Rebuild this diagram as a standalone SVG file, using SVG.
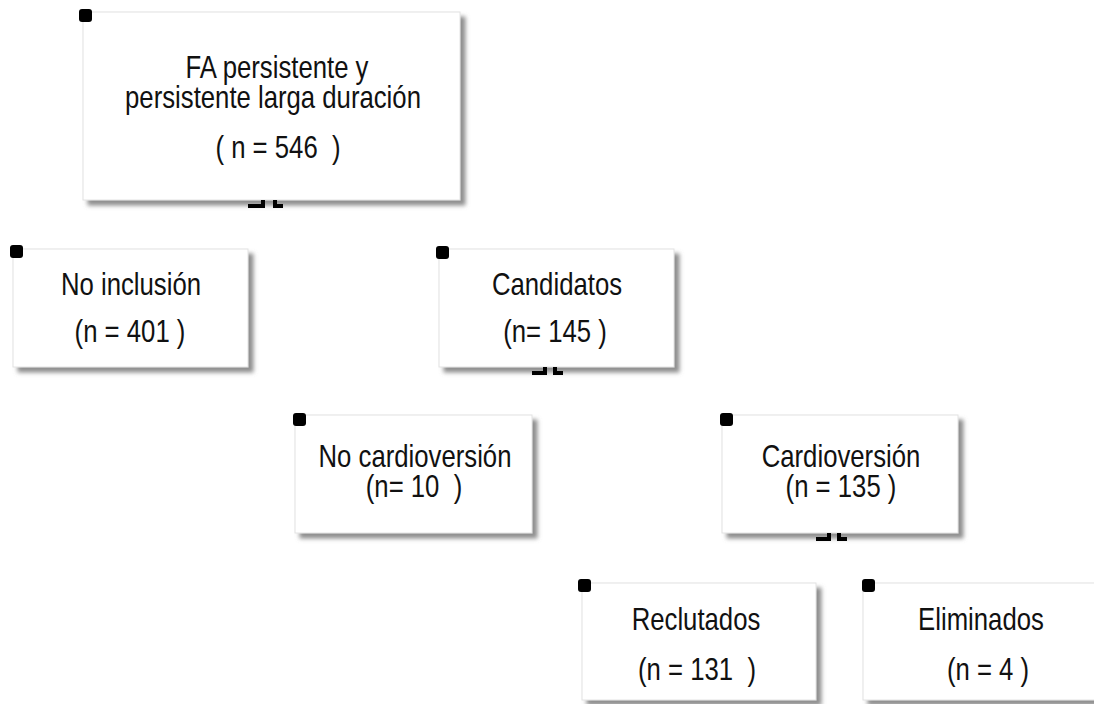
<svg xmlns="http://www.w3.org/2000/svg" width="1094" height="704" viewBox="0 0 1094 704">
<style>
.box{fill:#ffffff;stroke:#e2e2e2;stroke-width:1;filter:url(#sh)}
.mk{fill:#000000}
.t{font-family:"Liberation Sans",Arial,sans-serif;font-size:31px;fill:#111111;text-anchor:middle;white-space:pre}
.cn{fill:none;stroke:#000000;stroke-width:4;stroke-linejoin:miter}
</style>
<defs>
<filter id="sh" x="-10%" y="-10%" width="130%" height="130%">
<feGaussianBlur in="SourceAlpha" stdDeviation="2"/>
<feOffset dx="5" dy="5" result="b"/>
<feFlood flood-color="#7a7a7a" flood-opacity="0.85"/>
<feComposite in2="b" operator="in"/>
<feMerge><feMergeNode/><feMergeNode in="SourceGraphic"/></feMerge>
</filter>
</defs>
<rect width="1094" height="704" fill="#ffffff"/>
<g id="n1">
<rect class="box" x="83" y="12" width="377" height="188"/>
<rect class="mk" x="79" y="9" width="13" height="13" rx="3"/>
<text class="t" transform="translate(277,78) scale(0.83,1)">FA persistente y</text>
<text class="t" transform="translate(273,108) scale(0.83,1)">persistente larga duración</text>
<text class="t" transform="translate(278,158) scale(0.83,1)">( n = 546  )</text>
</g>
<g id="n2">
<rect class="box" x="13" y="249" width="235" height="118"/>
<rect class="mk" x="10" y="245" width="13" height="13" rx="3"/>
<text class="t" transform="translate(131,295) scale(0.83,1)">No inclusión</text>
<text class="t" transform="translate(130,342) scale(0.83,1)">(n = 401 )</text>
</g>
<g id="n3">
<rect class="box" x="439" y="249" width="235" height="118"/>
<rect class="mk" x="436" y="246" width="13" height="13" rx="3"/>
<text class="t" transform="translate(557,295) scale(0.83,1)">Candidatos</text>
<text class="t" transform="translate(555,342) scale(0.83,1)">(n= 145 )</text>
</g>
<g id="n4">
<rect class="box" x="295" y="415" width="237" height="118"/>
<rect class="mk" x="293" y="413" width="13" height="13" rx="3"/>
<text class="t" transform="translate(415,467) scale(0.83,1)">No cardioversión</text>
<text class="t" transform="translate(414,497) scale(0.83,1)">(n= 10  )</text>
</g>
<g id="n5">
<rect class="box" x="722" y="415" width="236" height="118"/>
<rect class="mk" x="720" y="413" width="13" height="13" rx="3"/>
<text class="t" transform="translate(841,467) scale(0.83,1)">Cardioversión</text>
<text class="t" transform="translate(841,497) scale(0.83,1)">(n = 135 )</text>
</g>
<g id="n6">
<rect class="box" x="582" y="583" width="234" height="117"/>
<rect class="mk" x="578" y="579" width="13" height="13" rx="3"/>
<text class="t" transform="translate(696,630) scale(0.83,1)">Reclutados</text>
<text class="t" transform="translate(697,680) scale(0.83,1)">(n = 131  )</text>
</g>
<g id="n7">
<rect class="box" x="863" y="583" width="240" height="117"/>
<rect class="mk" x="862" y="579" width="13" height="13" rx="3"/>
<text class="t" transform="translate(981,630) scale(0.83,1)">Eliminados</text>
<text class="t" transform="translate(988,680) scale(0.83,1)">(n = 4 )</text>
</g>
<g id="connectors">
<path class="cn" d="M248 206 H263 V200 M275 200 V206 H283"/>
<path class="cn" d="M532 373 H545 V367 M555 367 V373 H563"/>
<path class="cn" d="M816 539 H829 V533 M839 533 V539 H847"/>
</g>
</svg>
